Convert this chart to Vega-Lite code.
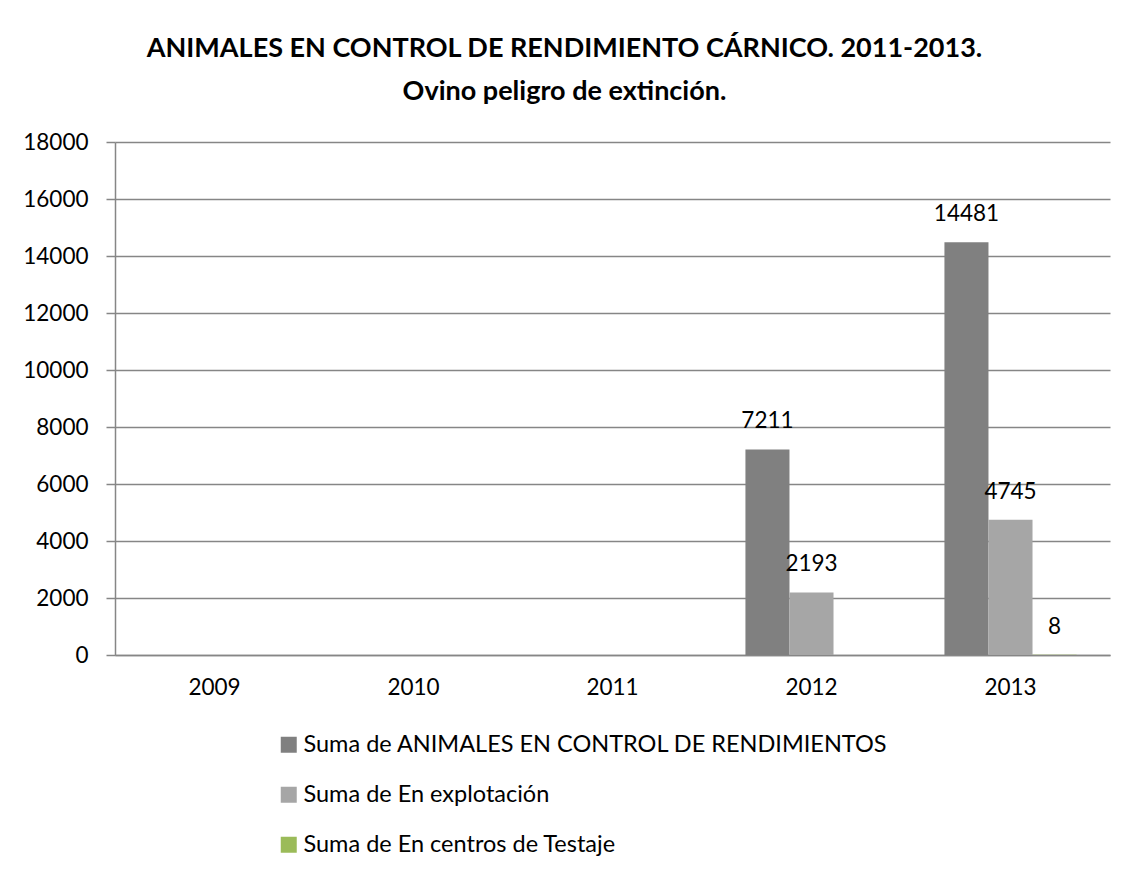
{
  "$schema": "https://vega.github.io/schema/vega-lite/v6.json",
  "autosize": {"type": "none"},
  "width": 995,
  "height": 513,
  "padding": {"left": 115, "top": 142, "right": 18, "bottom": 215},
  "background": "white",
  "title": {
    "text": ["ANIMALES EN CONTROL DE RENDIMIENTO CÁRNICO. 2011-2013.", "Ovino peligro de extinción."],
    "font": "Lato",
    "fontSize": 27,
    "fontWeight": "bold",
    "color": "#000000",
    "anchor": "middle",
    "dx": -48,
    "offset": 25,
    "lineHeight": 43
  },
  "data": {
    "values": [
      {"year": "2012", "series": "Suma de ANIMALES EN CONTROL DE RENDIMIENTOS", "value": 7211},
      {"year": "2012", "series": "Suma de En explotación", "value": 2193},
      {"year": "2013", "series": "Suma de ANIMALES EN CONTROL DE RENDIMIENTOS", "value": 14481},
      {"year": "2013", "series": "Suma de En explotación", "value": 4745},
      {"year": "2013", "series": "Suma de En centros de Testaje", "value": 8}
    ]
  },
  "encoding": {
    "x": {
      "field": "year",
      "type": "nominal",
      "scale": {"domain": ["2009", "2010", "2011", "2012", "2013"], "paddingInner": 0.336, "paddingOuter": 0.168},
      "axis": {
        "title": null,
        "labelAngle": 0,
        "labelFont": "Lato",
        "labelFontSize": 22.5,
        "labelColor": "#000000",
        "labelPadding": 21,
        "ticks": false,
        "domainColor": "#868686",
        "domainWidth": 1.5,
        "grid": false
      }
    },
    "xOffset": {
      "field": "series",
      "type": "nominal",
      "scale": {"domain": ["Suma de ANIMALES EN CONTROL DE RENDIMIENTOS", "Suma de En explotación", "Suma de En centros de Testaje"], "paddingInner": 0, "paddingOuter": 0}
    },
    "y": {
      "field": "value",
      "type": "quantitative",
      "scale": {"domain": [0, 18000], "nice": false},
      "axis": {
        "title": null,
        "values": [0, 2000, 4000, 6000, 8000, 10000, 12000, 14000, 16000, 18000],
        "format": "d",
        "labelFont": "Lato",
        "labelFontSize": 22.5,
        "labelColor": "#000000",
        "labelPadding": 18,
        "tickSize": 9,
        "tickColor": "#868686",
        "tickWidth": 1.5,
        "domainColor": "#868686",
        "domainWidth": 1.5,
        "gridColor": "#868686",
        "gridWidth": 1.5
      }
    }
  },
  "layer": [
    {
      "mark": {"type": "bar"},
      "encoding": {
        "color": {
          "field": "series",
          "type": "nominal",
          "scale": {
            "domain": ["Suma de ANIMALES EN CONTROL DE RENDIMIENTOS", "Suma de En explotación", "Suma de En centros de Testaje"],
            "range": ["#808080", "#A6A6A6", "#9BBB59"]
          },
          "legend": {
            "title": null,
            "orient": "none",
            "legendX": 162,
            "legendY": 591,
            "symbolType": "square",
            "symbolSize": 256,
            "symbolStrokeWidth": 0,
            "labelFont": "Lato",
            "labelFontSize": 23.5,
            "labelColor": "#000000",
            "labelLimit": 800,
            "labelOffset": 3,
            "rowPadding": 25,
            "padding": 0
          }
        }
      }
    },
    {
      "mark": {"type": "text", "dy": -28, "font": "Lato", "fontSize": 22.5, "color": "#000000"},
      "encoding": {
        "text": {"field": "value", "type": "quantitative", "format": "d"}
      }
    }
  ],
  "config": {
    "view": {"stroke": null}
  }
}
